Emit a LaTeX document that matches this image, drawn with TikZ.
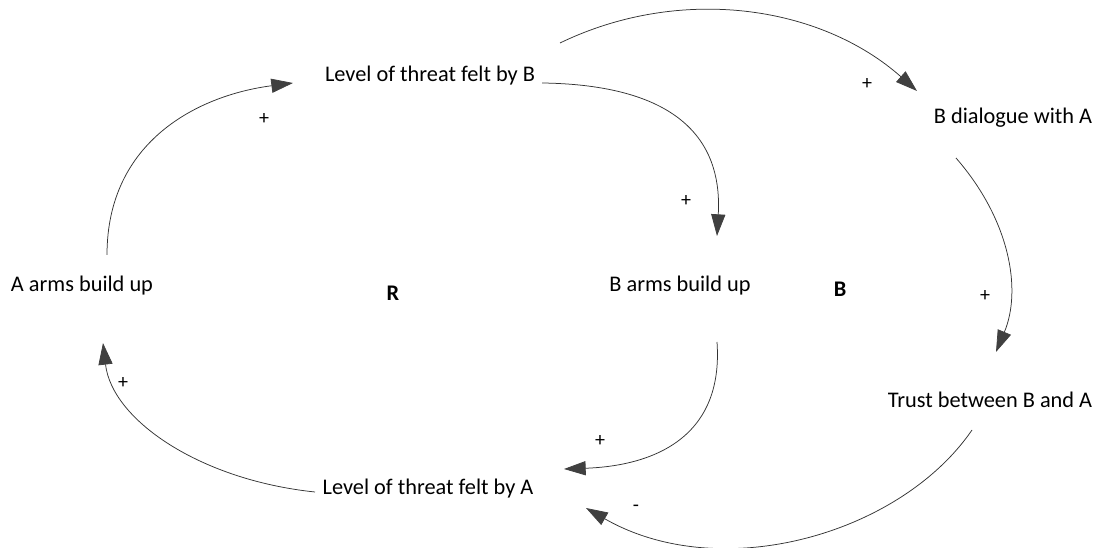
\documentclass[tikz,border=0pt]{standalone}
\usepackage{fontspec}
\setmainfont{Carlito}
\usetikzlibrary{arrows.meta}

\definecolor{headgray}{HTML}{404040}

\begin{document}
\begin{tikzpicture}[x=0.6pt, y=-0.6pt,
  every node/.style = {font=\fontsize{13.4}{16}\selectfont, inner sep=0pt},
  var/.style = {align=center},
  loopname/.style = {font=\fontsize{13.4}{16}\selectfont\bfseries},
  sign/.style = {font=\fontsize{12}{14}\selectfont},
  link/.style = {draw=black!80, line width=0.45pt,
    -{Triangle[length=13pt, width=8.5pt, color=headgray]}}]
  \useasboundingbox (0,0) rectangle (1096,548);

  % variables
  \node[var] (levelB) at (430,76) {Level of threat felt by B};
  \node[var] (dialog) at (1013,118) {B dialogue with A};
  \node[var] (armsA) at (82,286) {A arms build up};
  \node[var] (armsB) at (680,286) {B arms build up};
  \node[var] (trust) at (990,400) {Trust between B and A};
  \node[var] (levelA) at (428,489) {Level of threat felt by A};

  % loop markers
  \node[loopname] (loopR) at (393,293) {R};
  \node[loopname] (loopB) at (840,289) {B};

  % free ends of the links
  \coordinate (aOut) at (107,255);
  \coordinate (aIn) at (103,343);
  \coordinate (lbOut) at (542,83);
  \coordinate (lbTop) at (560,43);
  \coordinate (lbIn) at (293,83);
  \coordinate (bIn) at (717,236);
  \coordinate (bOut) at (717,342);
  \coordinate (dIn) at (917,91);
  \coordinate (dOut) at (956,158);
  \coordinate (tIn) at (996,352);
  \coordinate (tOut) at (972,430);
  \coordinate (laIn) at (564,469);
  \coordinate (laIn2) at (586,508);
  \coordinate (laOut) at (315,492);

  % links
  \draw[link] (aOut) .. controls (107,140) and (200,95) .. (lbIn);
  \draw[link] (lbOut) .. controls (690,85) and (722,150) .. (bIn);
  \draw[link] (lbTop) .. controls (680,-15) and (820,5) .. (dIn);
  \draw[link] (dOut) .. controls (1010,220) and (1022,290) .. (tIn);
  \draw[link] (bOut) .. controls (724,440) and (650,466) .. (laIn);
  \draw[link] (laOut) .. controls (200,480) and (112,420) .. (aIn);
  \draw[link] (tOut) .. controls (900,535) and (720,585) .. (laIn2);

  % polarities
  \node[sign] (s1) at (264,119) {+};
  \node[sign] (s2) at (686,201) {+};
  \node[sign] (s3) at (867,84) {+};
  \node[sign] (s4) at (985,296) {+};
  \node[sign] (s5) at (600,441) {+};
  \node[sign] (s6) at (123,383) {+};
  \node[sign] (s7) at (636,508) {-};
\end{tikzpicture}
\end{document}
